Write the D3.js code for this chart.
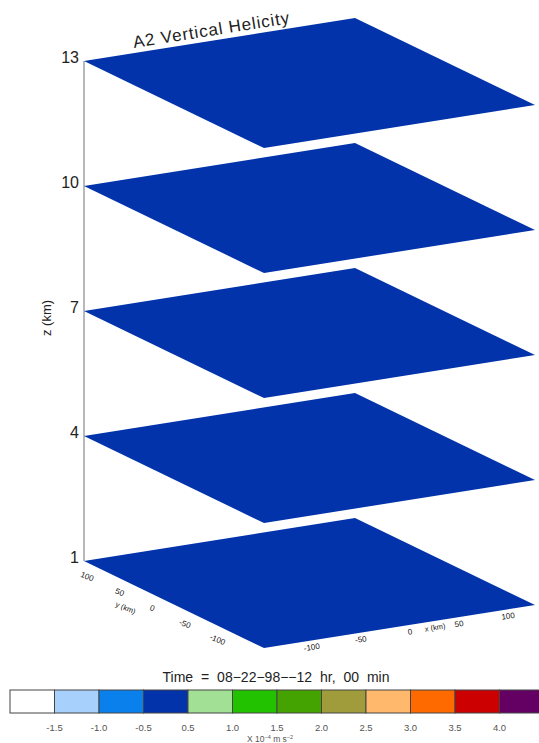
<!DOCTYPE html>
<html>
<head>
<meta charset="utf-8">
<script src="https://cdn.jsdelivr.net/npm/d3@7"></script>
<style>
  body { margin: 0; background: #fff; }
  svg { display: block; font-family: "Liberation Sans", Arial, sans-serif; }
</style>
</head>
<body>
<svg id="chart"></svg>
<script>
// levels (km) and the helicity value shown on each plane (x 10^-4 m s^-2)
const zLevels = [1, 4, 7, 10, 13];
const levelValues = [0, 0, 0, 0, 0];
const xTicks = [-100, -50, 0, 50, 100];
const yTicks = [100, 50, 0, -50, -100];
const binEdges = [-1.5, -1.0, -0.5, 0.5, 1.0, 1.5, 2.0, 2.5, 3.0, 3.5, 4.0];
const binLabels = ['-1.5', '-1.0', '-0.5', '0.5', '1.0', '1.5', '2.0', '2.5', '3.0', '3.5', '4.0'];
const binColors = ['#ffffff', '#a8d0fc', '#0a80ec', '#0233aa', '#a2e096', '#22c200', '#44a300',
                   '#a09c3c', '#ffb86c', '#ff6a00', '#cc0000', '#640064'];

const w = 539, h = 743;
const svg = d3.select('#chart').attr('width', w).attr('height', h);

// oblique projection of the domain box
const xs = d3.scaleLinear().domain([-138, 138]).range([0, 1]);
const ys = d3.scaleLinear().domain([-138, 138]).range([0, 1]);
const zs = d3.scaleLinear().domain([1, 13]).range([0, -500]);
const origin = [264, 648], xVec = [271, -43], yVec = [-180, -87];
function proj(x, y, z) {
  const u = xs(x), v = ys(y);
  return [origin[0] + u * xVec[0] + v * yVec[0], origin[1] + u * xVec[1] + v * yVec[1] + zs(z)];
}
const color = d3.scaleThreshold().domain(binEdges).range(binColors);

// z axis line
const zTop = proj(-138, 138, 13), zBot = proj(-138, 138, 1);
svg.append('line')
  .attr('x1', zTop[0]).attr('y1', zTop[1])
  .attr('x2', zBot[0]).attr('y2', zBot[1])
  .attr('stroke', '#8a8a8a').attr('stroke-width', 1.2);

// planes
const levels = zLevels.map((z, i) => ({ z: z, v: levelValues[i] }));
svg.append('g').selectAll('path')
  .data(levels.slice().reverse())
  .enter()
  .append('path')
  .attr('d', d => {
    const pts = [proj(-138, -138, d.z), proj(138, -138, d.z), proj(138, 138, d.z), proj(-138, 138, d.z)];
    return 'M' + pts.map(p => p.join(',')).join('L') + 'Z';
  })
  .attr('fill', d => color(d.v));

// z tick labels
svg.append('g').selectAll('text')
  .data(zLevels)
  .enter()
  .append('text')
  .attr('x', d => proj(-138, 138, d)[0] - 5)
  .attr('y', d => proj(-138, 138, d)[1] + 2)
  .attr('text-anchor', 'end')
  .attr('font-size', 16)
  .attr('fill', '#222')
  .text(d => d);

svg.append('text')
  .attr('transform', 'translate(51,318) rotate(-90)')
  .attr('text-anchor', 'middle')
  .attr('font-size', 13)
  .attr('fill', '#222')
  .text('z (km)');

// title along the back-left edge
const angTop = Math.atan2(xVec[1], xVec[0]) * 180 / Math.PI;
svg.append('text')
  .attr('transform', `translate(134,48) rotate(${angTop})`)
  .attr('font-size', 17)
  .attr('letter-spacing', 0.9)
  .attr('fill', '#222')
  .text('A2 Vertical Helicity');

// x axis labels
const angY = 22;
svg.append('g').selectAll('text')
  .data(xTicks)
  .enter()
  .append('text')
  .attr('transform', d => {
    const p = proj(d, -154, 1);
    return `translate(${p[0]},${p[1]}) rotate(${angTop})`;
  })
  .attr('text-anchor', 'middle')
  .attr('dy', '0.35em')
  .attr('font-size', 8)
  .attr('fill', '#111')
  .text(d => d);
const xl = proj(22, -160, 1);
svg.append('text')
  .attr('transform', `translate(${xl[0]},${xl[1]}) rotate(${angTop})`)
  .attr('text-anchor', 'middle')
  .attr('font-size', 7.5)
  .attr('fill', '#111')
  .text('x (km)');

// y axis labels
svg.append('g').selectAll('text')
  .data(yTicks)
  .enter()
  .append('text')
  .attr('transform', d => {
    const p = proj(-160, d, 1);
    return `translate(${p[0]},${p[1]}) rotate(${angY})`;
  })
  .attr('text-anchor', 'middle')
  .attr('dy', '0.35em')
  .attr('font-size', 8)
  .attr('fill', '#111')
  .text(d => d);
const yl = proj(-185, 5, 1);
svg.append('text')
  .attr('transform', `translate(${yl[0]},${yl[1]}) rotate(${angY})`)
  .attr('text-anchor', 'middle')
  .attr('font-size', 7.5)
  .attr('fill', '#111')
  .text('y (km)');

// time label
svg.append('text')
  .attr('x', 276).attr('y', 682)
  .attr('text-anchor', 'middle')
  .attr('font-size', 14)
  .attr('word-spacing', 4)
  .attr('fill', '#222')
  .text('Time = 08\u221222\u221298\u2212\u221212 hr, 00 min');

// colour bar
const cb = d3.scaleBand().domain(d3.range(binColors.length)).range([10, 544]).padding(0);
const bar = svg.append('g');
bar.selectAll('rect')
  .data(binColors)
  .enter()
  .append('rect')
  .attr('x', (d, i) => cb(i))
  .attr('y', 690)
  .attr('width', cb.bandwidth())
  .attr('height', 23)
  .attr('fill', d => d)
  .attr('stroke', '#444')
  .attr('stroke-width', 1);

bar.selectAll('text')
  .data(binLabels)
  .enter()
  .append('text')
  .attr('x', (d, i) => cb(i + 1))
  .attr('y', 731)
  .attr('text-anchor', 'middle')
  .attr('font-size', 9.5)
  .attr('fill', '#555')
  .text(d => d);

const unit = svg.append('text')
  .attr('x', 247).attr('y', 742)
  .attr('font-size', 8.5)
  .attr('fill', '#555');
unit.append('tspan').text('X 10');
unit.append('tspan').attr('dy', -3).attr('font-size', 5.5).text('\u22124');
unit.append('tspan').attr('dy', 3).text(' m s');
unit.append('tspan').attr('dy', -3).attr('font-size', 5.5).text('\u22122');
</script>
</body>
</html>
